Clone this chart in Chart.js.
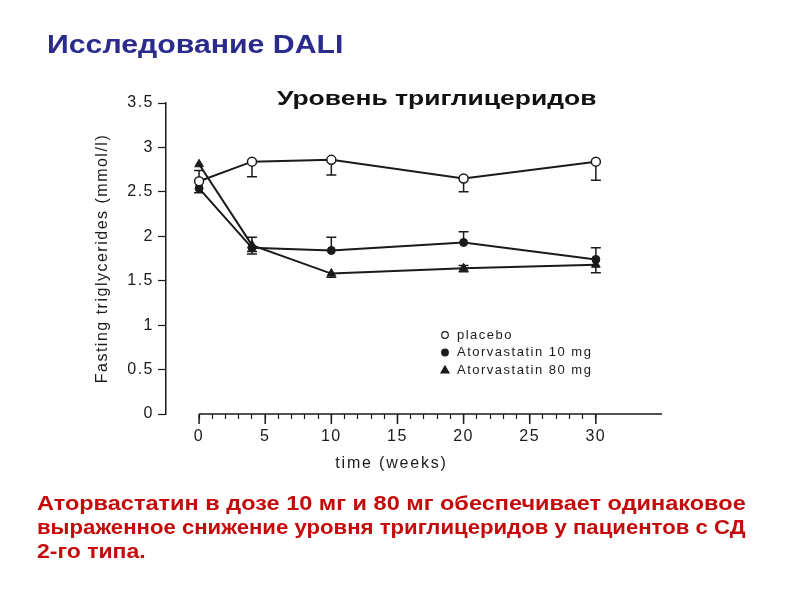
<!DOCTYPE html>
<html lang="ru">
<head>
<meta charset="UTF-8">
<title>Исследование DALI</title>
<script src="https://cdn.jsdelivr.net/npm/chart.js"></script>
<style>
    body {
        margin: 0;
        background: #fff;
        font-family: Arial, "Liberation Sans", sans-serif;
    }
    .slide {
        position: relative;
        width: 800px;
        height: 600px;
        overflow: hidden;
    }
    .slide canvas {
        position: absolute;
        left: 0;
        top: 0;
    }
    .main-title, .chart-title, .note {
        position: absolute;
        font-weight: bold;
        transform-origin: left top;
    }
    .main-title {
        left: 47px;
        top: 32px;
        font-size: 25px;
        line-height: 1;
        color: #2b2b8e;
        white-space: nowrap;
        transform: scaleX(1.21);
    }
    .chart-title {
        left: 277px;
        top: 87px;
        font-size: 21px;
        line-height: 1;
        color: #111;
        white-space: nowrap;
        transform: scaleX(1.26);
    }
    .note {
        left: 37px;
        top: 491px;
        font-size: 20px;
        line-height: 24px;
        color: #c40a0a;
    }
    .note span {
        display: block;
        width: max-content;
        white-space: nowrap;
        transform-origin: left top;
        transform: scaleX(1.15);
    }
</style>
</head>
<body>
<div class="slide">
    <canvas id="tgChart" width="800" height="600"></canvas>
    <div class="main-title">Исследование DALI</div>
    <div class="chart-title">Уровень триглицеридов</div>
    <div class="note">
        <span class="fit">Аторвастатин в дозе 10 мг и 80 мг обеспечивает одинаковое</span>
        <span class="fit">выраженное снижение уровня триглицеридов у пациентов с СД</span>
        <span>2-го типа.</span>
    </div>
</div>

<script>
// данные (ммоль/л)
const weeks = [0, 4, 10, 20, 30];

const placebo     = [2.62, 2.84, 2.86, 2.65, 2.84];
const placeboLow  = [2.62, 2.67, 2.69, 2.50, 2.63];
const placeboHigh = [2.74, 2.84, 2.86, 2.65, 2.84];

const atorva10     = [2.54, 1.87, 1.84, 1.93, 1.74];
const atorva10Low  = [2.49, 1.83, 1.84, 1.93, 1.74];
const atorva10High = [2.54, 1.87, 1.99, 2.05, 1.87];

const atorva80     = [2.81, 1.90, 1.58, 1.64, 1.68];
const atorva80Low  = [2.81, 1.80, 1.54, 1.60, 1.59];
const atorva80High = [2.81, 1.99, 1.58, 1.67, 1.68];

const yTicks = [0, 0.5, 1, 1.5, 2, 2.5, 3, 3.5];
const legendLabels = ['placebo', 'Atorvastatin 10 mg', 'Atorvastatin 80 mg'];

const toXY = arr => arr.map((v, i) => ({ x: weeks[i], y: v }));
const errors = [
    [placeboLow, placeboHigh],
    [atorva10Low, atorva10High],
    [atorva80Low, atorva80High]
];

// две первые строки текста внизу растянуты на одну ширину
document.querySelectorAll('.note .fit').forEach(el => {
    el.style.transform = 'scaleX(' + (709 / el.offsetWidth) + ')';
});

const fontFamily = 'Arial, "Liberation Sans", sans-serif';
const inkColor = '#1a1a1a';

// шрифт на исходном рисунке шире обычного Arial
const wideText = {
    id: 'wideText',
    beforeDraw(chart) {
        chart.ctx.letterSpacing = '1.5px';
    }
};

// усы погрешности
const errorBars = {
    id: 'errorBars',
    beforeDatasetsDraw(chart) {
        const { ctx, scales: { x, y } } = chart;
        ctx.save();
        ctx.strokeStyle = inkColor;
        ctx.lineWidth = 1.5;
        errors.forEach(([lo, hi], d) => {
            weeks.forEach((w, i) => {
                const px = x.getPixelForValue(w);
                const pLo = y.getPixelForValue(lo[i]);
                const pHi = y.getPixelForValue(hi[i]);
                if (Math.abs(pLo - pHi) < 1) return;
                ctx.beginPath();
                ctx.moveTo(px, pLo);
                ctx.lineTo(px, pHi);
                const mean = chart.data.datasets[d].data[i].y;
                if (lo[i] < mean) { ctx.moveTo(px - 5, pLo); ctx.lineTo(px + 5, pLo); }
                if (hi[i] > mean) { ctx.moveTo(px - 5, pHi); ctx.lineTo(px + 5, pHi); }
                ctx.stroke();
            });
        });
        ctx.restore();
    }
};

// ось X начинается с 0, длинные засечки через 5 недель, подпись оси и легенда
const axisExtras = {
    id: 'axisExtras',
    afterDraw(chart) {
        const { ctx, chartArea, scales: { x } } = chart;
        const yAxis = chartArea.bottom;
        ctx.save();
        ctx.strokeStyle = inkColor;
        ctx.lineWidth = 1.5;
        ctx.beginPath();
        ctx.moveTo(x.getPixelForValue(0), yAxis);
        ctx.lineTo(chartArea.right, yAxis);
        for (let w = 0; w <= 30; w += 5) {
            const px = x.getPixelForValue(w);
            ctx.moveTo(px, yAxis);
            ctx.lineTo(px, yAxis + 10);
        }
        ctx.stroke();

        ctx.fillStyle = inkColor;
        ctx.letterSpacing = '1.8px';
        ctx.font = '16px ' + fontFamily;
        ctx.textAlign = 'center';
        ctx.textBaseline = 'middle';
        const mid = (x.getPixelForValue(0) + x.getPixelForValue(30)) / 2 - 6;
        ctx.fillText('time (weeks)', mid, yAxis + 50);

        // легенда
        ctx.letterSpacing = '1.5px';
        ctx.font = '13px ' + fontFamily;
        ctx.textAlign = 'left';
        ctx.lineWidth = 1.2;
        chart.data.datasets.forEach((ds, i) => {
            const ly = 335 + i * 17.5;
            ctx.fillStyle = ds.pointBackgroundColor;
            ctx.strokeStyle = inkColor;
            ctx.beginPath();
            if (ds.pointStyle === 'triangle') {
                ctx.moveTo(445, ly - 4);
                ctx.lineTo(449, ly + 3);
                ctx.lineTo(441, ly + 3);
                ctx.closePath();
            } else {
                ctx.arc(445, ly, 3.3, 0, Math.PI * 2);
            }
            ctx.fill();
            ctx.stroke();
            ctx.fillStyle = inkColor;
            ctx.fillText(legendLabels[i], 457, ly);
        });
        ctx.restore();
    }
};

const ctx = document.getElementById('tgChart').getContext('2d');
new Chart(ctx, {
    type: 'line',
    data: {
        datasets: [
            {
                label: legendLabels[0],
                data: toXY(placebo),
                borderColor: inkColor,
                borderWidth: 2,
                pointStyle: 'circle',
                pointRadius: 4.5,
                pointBorderWidth: 1.5,
                pointBorderColor: inkColor,
                pointBackgroundColor: '#ffffff',
                tension: 0,
                order: 1
            },
            {
                label: legendLabels[1],
                data: toXY(atorva10),
                borderColor: inkColor,
                borderWidth: 2,
                pointStyle: 'circle',
                pointRadius: 4,
                pointBorderWidth: 1,
                pointBorderColor: inkColor,
                pointBackgroundColor: inkColor,
                tension: 0,
                order: 2
            },
            {
                label: legendLabels[2],
                data: toXY(atorva80),
                borderColor: inkColor,
                borderWidth: 2,
                pointStyle: 'triangle',
                pointRadius: 5,
                pointBorderWidth: 1,
                pointBorderColor: inkColor,
                pointBackgroundColor: inkColor,
                tension: 0,
                order: 3
            }
        ]
    },
    options: {
        responsive: false,
        animation: false,
        layout: { padding: { top: 103, right: 138, left: 0, bottom: 0 } },
        plugins: {
            legend: { display: false },
            tooltip: { enabled: false }
        },
        scales: {
            x: {
                type: 'linear',
                min: -2.5,
                max: 35,
                afterBuildTicks: s => {
                    s.ticks = [];
                    for (let w = 0; w <= 30; w++) s.ticks.push({ value: w });
                },
                afterFit: s => { s.height = 186; },
                border: { display: false },
                grid: {
                    drawOnChartArea: false,
                    tickLength: 5,
                    tickColor: inkColor,
                    tickWidth: 1.2
                },
                ticks: {
                    autoSkip: false,
                    maxRotation: 0,
                    padding: 8,
                    color: inkColor,
                    font: { family: fontFamily, size: 16 },
                    callback: v => (v % 5 === 0 ? String(v) : '')
                }
            },
            y: {
                min: 0,
                max: 3.5,
                afterBuildTicks: s => { s.ticks = yTicks.map(v => ({ value: v })); },
                afterFit: s => { s.width = 166; },
                border: { display: true, color: inkColor, width: 1.5 },
                grid: {
                    drawOnChartArea: false,
                    tickLength: 8,
                    tickColor: inkColor,
                    tickWidth: 1.2
                },
                ticks: {
                    padding: 4,
                    color: inkColor,
                    font: { family: fontFamily, size: 16 },
                    callback: v => String(v)
                },
                title: {
                    display: true,
                    text: 'Fasting triglycerides (mmol/l)',
                    color: inkColor,
                    font: { family: fontFamily, size: 16 },
                    padding: { top: 93, bottom: 0 }
                }
            }
        }
    },
    plugins: [wideText, errorBars, axisExtras]
});
</script>
</body>
</html>
